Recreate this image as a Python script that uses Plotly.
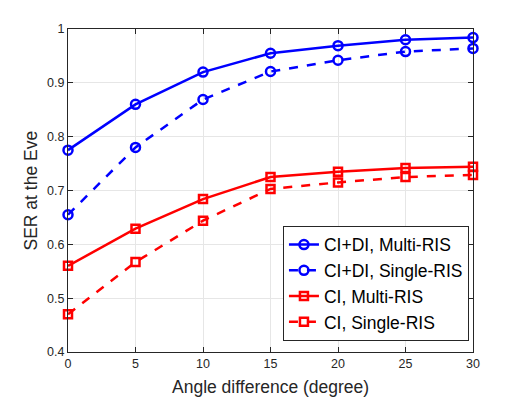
import plotly.graph_objects as go

angles = [0, 5, 10, 15, 20, 25, 30]
cidi_multi = [0.775, 0.860, 0.920, 0.955, 0.969, 0.980, 0.984]
cidi_single = [0.655, 0.780, 0.869, 0.921, 0.942, 0.958, 0.964]
ci_multi = [0.560, 0.629, 0.684, 0.725, 0.735, 0.742, 0.744]
ci_single = [0.470, 0.567, 0.644, 0.703, 0.715, 0.725, 0.729]

x_title = "Angle difference (degree)"
y_title = "SER at the Eve"

series = [
    ("CI+DI, Multi-RIS", cidi_multi, "#0000ff", "solid", "circle-open", 9),
    ("CI+DI, Single-RIS", cidi_single, "#0000ff", "dash", "circle-open", 9),
    ("CI, Multi-RIS", ci_multi, "#ff0000", "solid", "square-open", 8),
    ("CI, Single-RIS", ci_single, "#ff0000", "dash", "square-open", 8),
]

fig = go.Figure()
for name, vals, color, dash, sym, sz in series:
    fig.add_trace(go.Scatter(
        x=angles, y=vals, name=name, mode="lines+markers",
        line=dict(color=color, width=2.5, dash=dash),
        marker=dict(symbol=sym, size=sz, color=color, line=dict(width=2.5, color=color)),
        cliponaxis=False,
    ))

font_family = "Liberation Sans, Arial, sans-serif"
axis_common = dict(
    showgrid=True, gridcolor="#e6e6e6", gridwidth=1,
    showline=True, linecolor="#262626", linewidth=1, mirror="ticks",
    ticks="inside", ticklen=5, tickcolor="#262626",
    tickfont=dict(size=12.5, color="#262626", family=font_family),
    zeroline=False, automargin=False,
)
# page body has an 8px margin, so the figure is sized to fit the 531x399 window
fig.update_layout(
    width=523, height=391,
    margin=dict(l=60, r=58, t=21, b=47),
    paper_bgcolor="white", plot_bgcolor="white",
    font=dict(family=font_family, color="#262626"),
    showlegend=True,
    legend=dict(
        x=0.99, y=0.035, xanchor="right", yanchor="bottom",
        bgcolor="white", bordercolor="#262626", borderwidth=1,
        font=dict(size=17.5, color="#000000", family=font_family),
        tracegroupgap=0, itemwidth=30,
    ),
    xaxis=dict(range=[0, 30], tickvals=[0, 5, 10, 15, 20, 25, 30], **axis_common),
    yaxis=dict(range=[0.4, 1.0], tickvals=[0.4, 0.5, 0.6, 0.7, 0.8, 0.9, 1.0],
               ticktext=["0.4", "0.5", "0.6", "0.7", "0.8", "0.9", "1"], **axis_common),
    annotations=[
        dict(text=x_title, xref="paper", yref="paper", x=0.5, y=-0.108,
             xanchor="center", yanchor="middle", showarrow=False,
             font=dict(size=17.5, color="#262626", family=font_family)),
        dict(text=y_title, xref="paper", yref="paper", x=-0.0914, y=0.5,
             xanchor="center", yanchor="middle", showarrow=False, textangle=-90,
             font=dict(size=17.5, color="#262626", family=font_family)),
    ],
)

fig.write_html("out.html")
